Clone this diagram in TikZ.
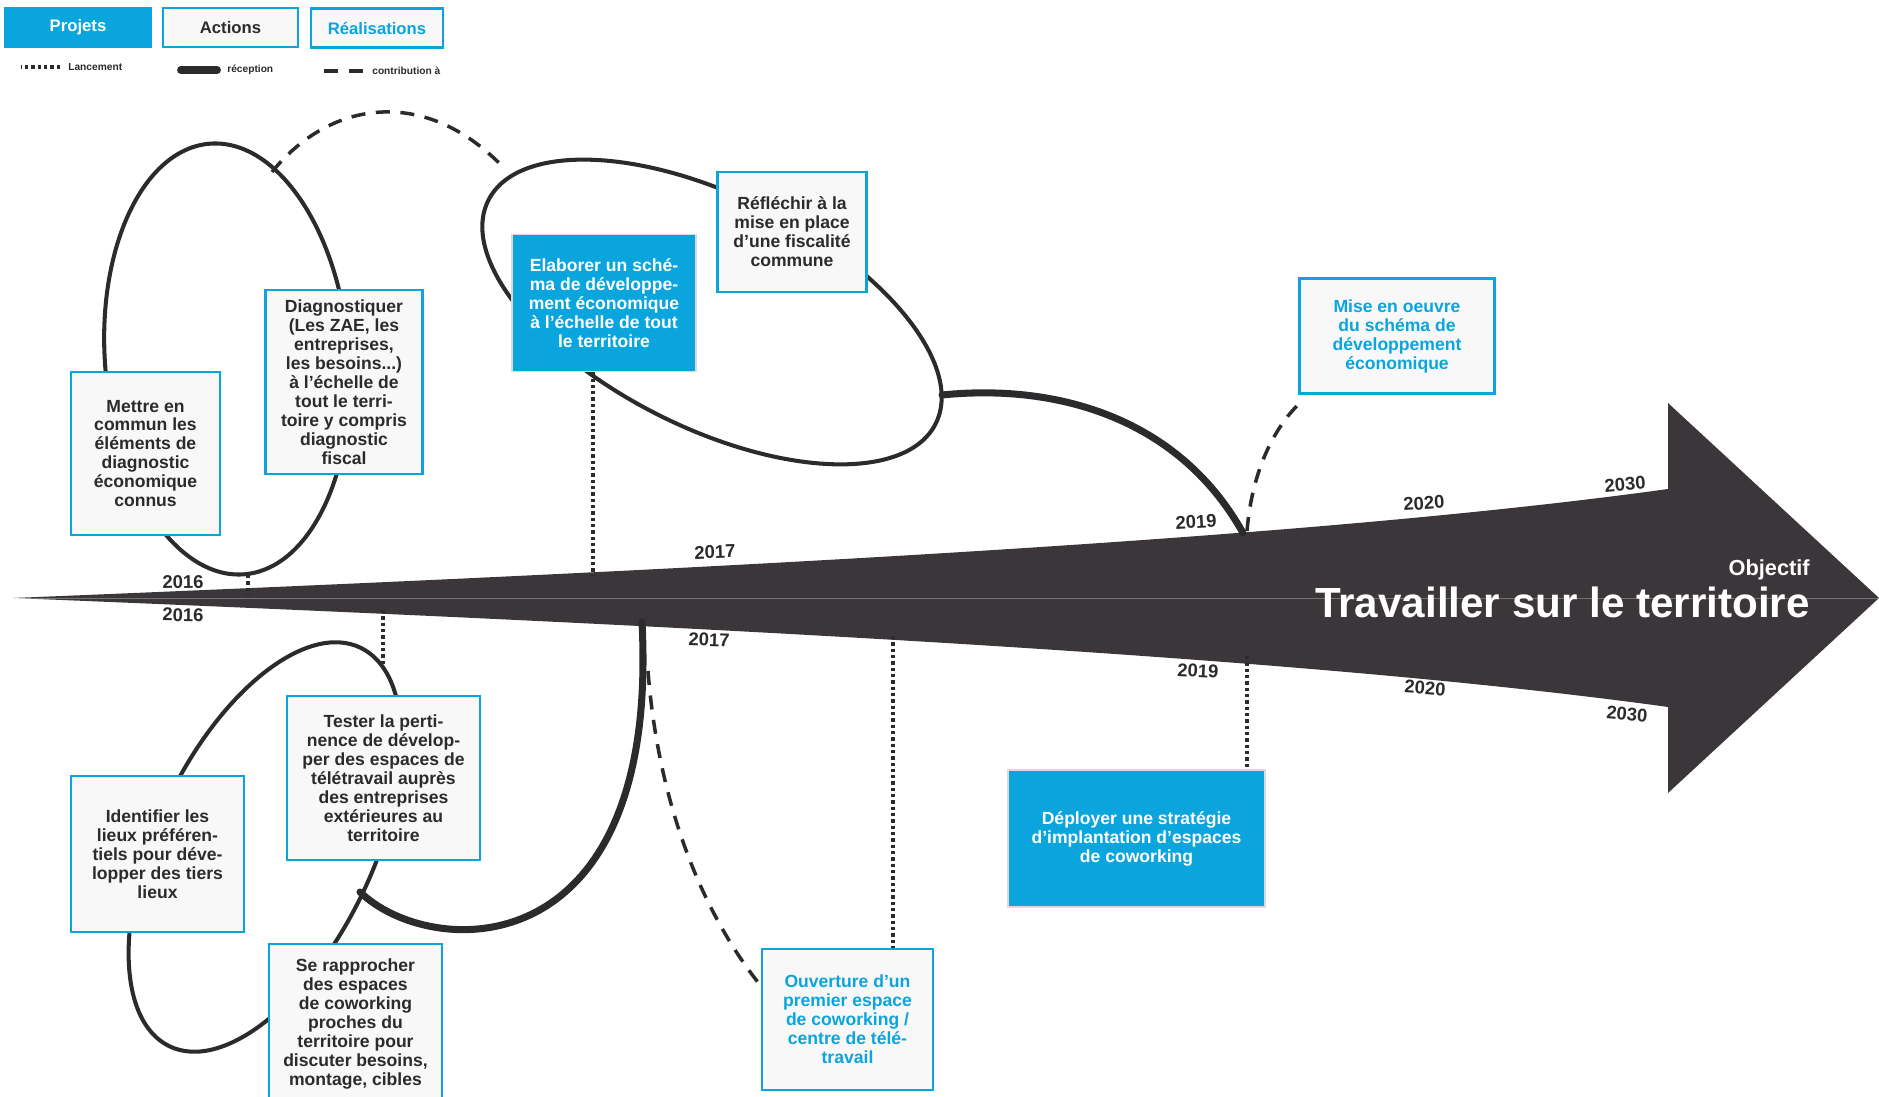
\documentclass[tikz,border=0pt]{standalone}
\usepackage{fontspec}
\setmainfont{Liberation Sans}
\usetikzlibrary{positioning,calc}
\definecolor{Azure}{HTML}{0AA5DD}
\definecolor{Ink}{HTML}{2B2A2C}
\definecolor{Slate}{HTML}{3A3639}
\definecolor{Paper}{HTML}{F8F8F8}
\definecolor{Mist}{HTML}{DADADA}
\newcommand\cellfont{\fontsize{10}{10.8}\selectfont\bfseries}
\newcommand\yearfont{\fontsize{10.5}{12}\selectfont\bfseries}
\newcommand\legfont{\fontsize{5.8}{7}\selectfont\bfseries}

\begin{document}
\begin{tikzpicture}[x=0.02cm, y=-0.02cm,
  box/.style={draw=Azure, line width=1.6pt, fill=Paper, align=center, inner sep=0pt, font=\cellfont},
  action/.style={box, text=Ink},
  realisation/.style={box, text=Azure},
  projet/.style={box, fill=Azure, draw=Mist, line width=0.8pt, text=white},
  keybox/.style={box, minimum height=0.78cm, font=\fontsize{9.5}{11}\selectfont\bfseries},
  keytext/.style={anchor=west, inner sep=0pt, text=Ink, font=\legfont},
  loop/.style={draw=Ink, line width=2.3pt},
  reception/.style={draw=Ink, line width=4pt, line cap=round},
  lancement/.style={draw=Ink, line width=1.9pt, dash pattern=on 1.9pt off 1.7pt},
  contribution/.style={draw=Ink, line width=2pt, dash pattern=on 8pt off 6pt},
  year/.style={font=\yearfont, text=Ink, inner sep=0pt}]

\useasboundingbox (0,0) rectangle (1879,1097);

% legende
\node[keybox, fill=Azure, draw=Azure, text=white, minimum width=2.92cm] (kprojet) at (78,27.5) {Projets};
\node[keybox, text=Ink, minimum width=2.7cm] (kaction) at (230.5,27.5) {Actions};
\node[keybox, text=Azure, minimum width=2.64cm] (kreal) at (377,28) {Réalisations};
\node[keytext] (klanc) at (68,67) {Lancement};
\node[keytext] (krecep) at (227,70) {réception};
\node[keytext] (kcontr) at (372,71) {contribution à};
\draw[lancement] ($(klanc.west)+(-8,0)$) -- ++(-39,0);
\draw[draw=Ink, line width=4.5pt, line cap=round] ($(krecep.west)+(-10,0)$) -- ++(-36,0);
\draw[draw=Ink, line width=2.2pt, dash pattern=on 8pt off 6pt] ($(kcontr.west)+(-9,0)$) -- ++(-40,0);

% fleche du temps
\fill[Slate] (13,598) .. controls (700,570) and (1300,540) .. (1668,489) -- (1668,403)
  -- (1879,598) -- (1668,793) -- (1668,707) .. controls (1300,656) and (700,626) .. (13,598) -- cycle;
\draw[white, opacity=0.3, line width=0.4pt] (13,598) -- (1879,598);

\coordinate (u2016) at (248,594);
\coordinate (u2017) at (593,576);
\coordinate (u2019) at (1243,533);
\coordinate (u2019d) at (1247,531);
\coordinate (l2016) at (383,610);
\coordinate (l2017) at (642,622);
\coordinate (l2017d) at (648,671);
\coordinate (l2018) at (893,636);
\coordinate (l2019) at (1247,656);

% boucles
\draw[loop, rotate around={4.6:(227,359)}] (227,359) ellipse [x radius=122, y radius=216];
\draw[loop, rotate around={-26.5:(712,312)}] (712,312) ellipse [x radius=250, y radius=116];
\draw[loop, rotate around={64.4:(265,847)}] (265,847) ellipse [x radius=221, y radius=108];
\coordinate (abot) at (248,575);
\coordinate (aj) at (272,172);
\coordinate (bj) at (503,167);
\coordinate (bright) at (942,395);
\coordinate (ctop) at (383,664);
\coordinate (cj) at (360,892);

% actions
\node[action, minimum width=2.98cm, minimum height=3.26cm] (mettre) at (145.5,453.5)
  {Mettre en\\commun les\\éléments de\\diagnostic\\économique\\connus};
\node[action, minimum width=3.14cm, minimum height=3.68cm] (diag) at (344,382)
  {Diagnostiquer\\(Les ZAE, les\\entreprises,\\les besoins...)\\à l’échelle de\\tout le terri-\\toire y compris\\diagnostic\\fiscal};
\node[action, minimum width=2.98cm, minimum height=2.4cm] (fisc) at (792,232)
  {Réfléchir à la\\mise en place\\d’une fiscalité\\commune};
\node[action, minimum width=3.46cm, minimum height=3.12cm] (lieux) at (157.5,854)
  {Identifier les\\lieux préféren-\\tiels pour déve-\\lopper des tiers\\lieux};
\node[action, minimum width=3.86cm, minimum height=3.28cm] (tester) at (383.5,778)
  {Tester la perti-\\nence de dévelop-\\per des espaces de\\télétravail auprès\\des entreprises\\extérieures au\\territoire};
\node[action, minimum width=3.46cm, minimum height=3.2cm] (rappr) at (355.5,1024)
  {Se rapprocher\\des espaces\\de coworking\\proches du\\territoire pour\\discuter besoins,\\montage, cibles};

% projets
\node[projet, minimum width=3.68cm, minimum height=2.74cm] (schema) at (604,303)
  {Elaborer un sché-\\ma de développe-\\ment économique\\à l’échelle de tout\\le territoire};
\node[projet, minimum width=5.14cm, minimum height=2.74cm] (deploy) at (1136.5,838.5)
  {Déployer une stratégie\\d’implantation d’espaces\\de coworking};

% realisations
\node[realisation, minimum width=3.9cm, minimum height=2.3cm] (miseo) at (1397,336)
  {Mise en oeuvre\\du schéma de\\développement\\économique};
\node[realisation, minimum width=3.42cm, minimum height=2.82cm] (ouvert) at (847.5,1019.5)
  {Ouverture d’un\\premier espace\\de coworking /\\centre de télé-\\travail};

% liens
\draw[lancement] (abot) -- (u2016);
\draw[lancement] (schema.south -| u2017) -- (u2017);
\draw[lancement] (l2016) -- (ctop);
\draw[lancement] (l2018) -- (l2018 |- ouvert.north);
\draw[lancement] (l2019) -- (l2019 |- deploy.north);
\draw[contribution] (aj) .. controls (330,100) and (425,86) .. (bj);
\draw[contribution] (u2019d) .. controls (1252,470) and (1275,425) .. ($(miseo.south west)+(5,5)$);
\draw[contribution] (l2017d) .. controls (658,800) and (700,910) .. ($(ouvert.north west)+(0,38)$);
\draw[reception] (bright) .. controls (1060,383) and (1180,420) .. (u2019);
\draw[reception] (cj) .. controls (430,960) and (660,970) .. (l2017);

% annees
\node[year, rotate=1] (y16a) at (183,582) {2016};
\node[year, rotate=-1] (y16b) at (183,615) {2016};
\node[year, rotate=2] (y17a) at (715,552) {2017};
\node[year, rotate=-2] (y17b) at (709,640) {2017};
\node[year, rotate=3] (y19a) at (1196,522) {2019};
\node[year, rotate=-3] (y19b) at (1198,671) {2019};
\node[year, rotate=4] (y20a) at (1424,503) {2020};
\node[year, rotate=-4] (y20b) at (1425,688) {2020};
\node[year, rotate=5] (y30a) at (1625,484) {2030};
\node[year, rotate=-5] (y30b) at (1627,714) {2030};

% objectif
\node[text=white, anchor=east, inner sep=0pt, font=\fontsize{12.4}{14}\selectfont\bfseries] (objectif) at (1810,570) {Objectif};
\node[text=white, anchor=east, inner sep=0pt, font=\fontsize{24}{28}\selectfont\bfseries] (goal) at (1810,602) {Travailler sur le territoire};
\end{tikzpicture}
\end{document}
